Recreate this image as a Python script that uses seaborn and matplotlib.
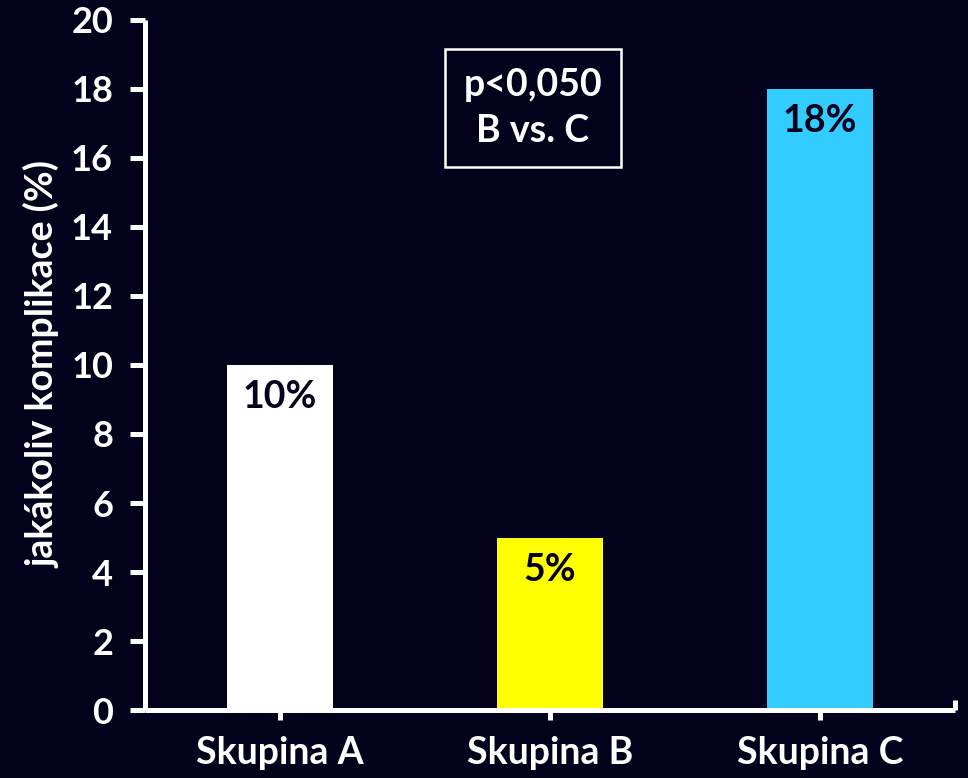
import matplotlib
matplotlib.use("Agg")
import matplotlib.pyplot as plt
import seaborn as sns
import pandas as pd

categories = ["Skupina A", "Skupina B", "Skupina C"]
values = [10, 5, 18]
bar_labels = ["10%", "5%", "18%"]
colors = ["#ffffff", "#ffff00", "#33ccff"]
yticks = [0, 2, 4, 6, 8, 10, 12, 14, 16, 18, 20]
ylabel = "jakákoliv komplikace (%)"
box_text = "p<0,050\nB vs. C"

bg = "#03021c"
sns.set_theme(style="ticks")
plt.rcParams["font.family"] = ["Lato", "DejaVu Sans"]
plt.rcParams["font.weight"] = "bold"

df = pd.DataFrame({"cat": categories, "val": values})

fig = plt.figure(figsize=(9.68, 7.78), dpi=100, facecolor=bg)
ax = fig.add_axes([0.1498, 0.0874, 0.8368, 0.8869])
ax.set_facecolor(bg)

sns.barplot(data=df, x="cat", y="val", hue="cat", palette=colors, width=0.39,
            saturation=1, legend=False, ax=ax, edgecolor="none")

for i, (v, lab) in enumerate(zip(values, bar_labels)):
    ax.annotate(lab, xy=(i, v), xytext=(0, -11), textcoords="offset points",
                ha="center", va="top", fontsize=27, fontweight="bold", color=bg)

ax.set_xlim(-0.5, 2.5)
ax.set_ylim(0, 20)
ax.set_yticks(yticks)
ax.set_xlabel("")
ax.set_ylabel(ylabel, fontsize=27, fontweight="bold", color="white", labelpad=8)

for s in ["top", "right"]:
    ax.spines[s].set_visible(False)
for s in ["left", "bottom"]:
    ax.spines[s].set_color("white")
    ax.spines[s].set_linewidth(3.6)
    ax.spines[s].set_capstyle("butt")

ax.tick_params(axis="y", colors="white", length=11, width=3.6, pad=12,
               labelsize=26, direction="out")
ax.tick_params(axis="x", colors="white", length=7, width=3.6, pad=12,
               labelsize=27, direction="out")
ax.set_xticks([2.5], minor=True)
ax.tick_params(axis="x", which="minor", direction="in", length=7, width=3.6,
               colors="white")
for t in ax.get_xticklabels() + ax.get_yticklabels():
    t.set_fontweight("bold")
    t.set_color("white")

ax.text(0.937, 17.45, box_text, ha="center", va="center", fontsize=27,
        fontweight="bold", color="white", linespacing=1.45,
        bbox=dict(boxstyle="square,pad=0.5", facecolor=bg, edgecolor="white",
                  linewidth=1.8))

fig.savefig("out.png", dpi=100, facecolor=bg)
